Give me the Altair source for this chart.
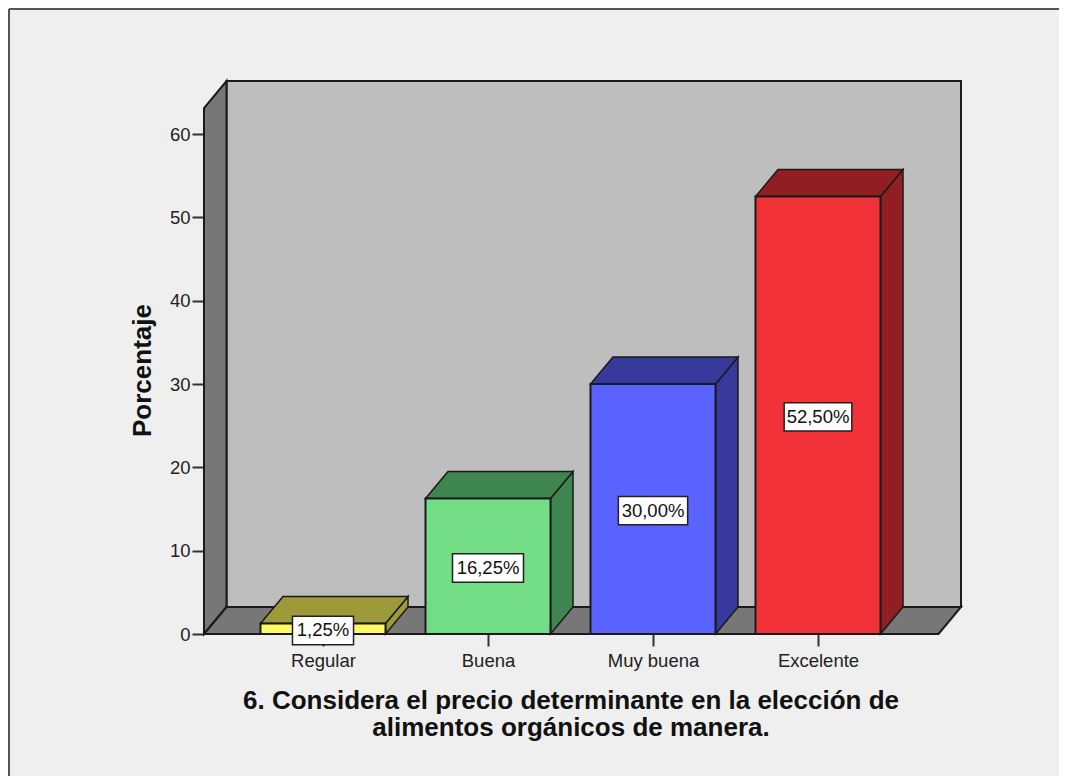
import altair as alt
import pandas as pd

categories = ["Regular", "Buena", "Muy buena", "Excelente"]
values = [1.25, 16.25, 30.0, 52.5]
labels = ["1,25%", "16,25%", "30,00%", "52,50%"]
front_colors = ["#fdf863", "#72dd85", "#5a63ff", "#f23239"]
shade_colors = ["#9e9a3a", "#3e8550", "#38399c", "#911e22"]
y_ticks = [0, 10, 20, 30, 40, 50, 60]
x_title = ["6. Considera el precio determinante en la elección de", "alimentos orgánicos de manera."]
y_title = "Porcentaje"

X0, X1 = -119 / 165, 3 + 143 / 165
Y1 = 553 / (500 / 60)
DX = 22.5 / 165
DY = 27 / (500 / 60)
HALF = 62.5 / 165
BOX_H = 1.7
BOX_SHIFT = 0.2
BOX_W = [0.185, 0.215, 0.21, 0.205]
FONT = "Liberation Sans"
OUT = "#1a1a1a"

axis_x = alt.Axis(
    values=[0, 1, 2, 3],
    labelExpr="['Regular','Buena','Muy buena','Excelente'][datum.value]",
    title=x_title, grid=False, domain=False, tickSize=12, tickWidth=2, tickColor="#333333",
    labelFont=FONT, labelFontSize=18.5, labelColor="#222222", labelPadding=5,
    titleFont=FONT, titleFontSize=26, titleFontWeight="bold", titleColor="#111111",
    titlePadding=18, titleLineHeight=27, titleX=366.5,
)
axis_y = alt.Axis(
    values=y_ticks, title=y_title, grid=False, domain=False, tickSize=12, tickWidth=2,
    tickColor="#333333", labelFont=FONT, labelFontSize=18.5, labelColor="#222222", labelPadding=2,
    titleFont=FONT, titleFontSize=26, titleFontWeight="bold", titleColor="#111111", titlePadding=14,
    titleY=289,
)
x_scale = alt.Scale(domain=[X0, X1], nice=False, zero=False)
y_scale = alt.Scale(domain=[0, Y1], nice=False, zero=False)
x = alt.X("x:Q", scale=x_scale, axis=axis_x)
y = alt.Y("y:Q", scale=y_scale, axis=axis_y)
fill = alt.Color("fill:N", scale=None)

# walls
back = pd.DataFrame({"x": [X0 + DX, X1], "y": [DY, DY], "y2": [Y1, Y1], "fill": ["#bebebe"] * 2})
left = pd.DataFrame({"x": [X0, X0 + DX], "y": [0, DY], "y2": [Y1 - DY, Y1], "fill": ["#777777"] * 2})
floor = pd.DataFrame({"y": [0, DY], "x": [X0, X0 + DX], "x2": [X1 - DX, X1], "fill": ["#777777"] * 2})

back_l = alt.Chart(back).mark_area(stroke=OUT, strokeWidth=2, opacity=1).encode(x=x, y=y, y2="y2:Q", color=fill)
left_l = alt.Chart(left).mark_area(stroke=OUT, strokeWidth=2, opacity=1).encode(x=x, y=y, y2="y2:Q", color=fill)
floor_l = (
    alt.Chart(floor)
    .mark_area(stroke=OUT, strokeWidth=2, opacity=1, orient="horizontal")
    .encode(y=y, x=x, x2="x2:Q", color=fill)
)

# bars
side_rows, top_rows, front_rows, box_rows = [], [], [], []
for i, (c, v, lab) in enumerate(zip(categories, values, labels)):
    side_rows += [
        {"bar": c, "x": i + HALF, "y": 0, "y2": v, "fill": shade_colors[i]},
        {"bar": c, "x": i + HALF + DX, "y": DY, "y2": v + DY, "fill": shade_colors[i]},
    ]
    top_rows += [
        {"bar": c, "y": v, "x": i - HALF, "x2": i + HALF, "fill": shade_colors[i]},
        {"bar": c, "y": v + DY, "x": i - HALF + DX, "x2": i + HALF + DX, "fill": shade_colors[i]},
    ]
    front_rows.append({"bar": c, "x": i - HALF, "x2": i + HALF, "y": 0, "y2": v, "fill": front_colors[i]})
    mid = v / 2 - BOX_SHIFT
    box_rows.append({
        "x": i - BOX_W[i], "x2": i + BOX_W[i], "y": mid - BOX_H, "y2": mid + BOX_H,
        "tx": i, "ty": mid, "label": lab,
    })

side_l = alt.Chart(pd.DataFrame(side_rows)).mark_area(stroke=OUT, strokeWidth=1.5, opacity=1).encode(
    x=x, y=y, y2="y2:Q", color=fill, detail="bar:N")
top_l = alt.Chart(pd.DataFrame(top_rows)).mark_area(stroke=OUT, strokeWidth=1.5, opacity=1, orient="horizontal").encode(
    y=y, x=x, x2="x2:Q", color=fill, detail="bar:N")
front_l = alt.Chart(pd.DataFrame(front_rows)).mark_rect(stroke=OUT, strokeWidth=2, opacity=1).encode(
    x=x, x2="x2:Q", y=y, y2="y2:Q", color=fill)

box_df = pd.DataFrame(box_rows)
box_l = alt.Chart(box_df).mark_rect(fill="white", stroke="#222222", strokeWidth=1.5, opacity=1).encode(
    x=x, x2="x2:Q", y=y, y2="y2:Q")
text_l = alt.Chart(box_df).mark_text(font=FONT, fontSize=18.5, color="#111111").encode(
    x=alt.X("tx:Q", scale=x_scale, axis=axis_x),
    y=alt.Y("ty:Q", scale=y_scale, axis=axis_y),
    text="label:N",
)

# outer frame (pixel decoration, relative to the plot area)
frame_top = alt.Chart(pd.DataFrame({"a": [0]})).mark_rule(color="#555555", strokeWidth=2).encode(
    x=alt.value(-195), x2=alt.value(855), y=alt.value(-72))
frame_left = alt.Chart(pd.DataFrame({"a": [0]})).mark_rule(color="#555555", strokeWidth=2).encode(
    x=alt.value(-195), y=alt.value(-72), y2=alt.value(695))

chart = (
    alt.layer(back_l, left_l, floor_l, side_l, top_l, front_l, box_l, text_l, frame_top, frame_left)
    .properties(
        width=757, height=553,
        padding={"left": 196, "top": 73, "right": 98, "bottom": 142},
        autosize=alt.AutoSizeParams(type="none"),
        background="#efefef",
    )
    .configure_view(stroke=None)
)

chart.save("out.html", embed_options={"renderer": "svg", "actions": False})
